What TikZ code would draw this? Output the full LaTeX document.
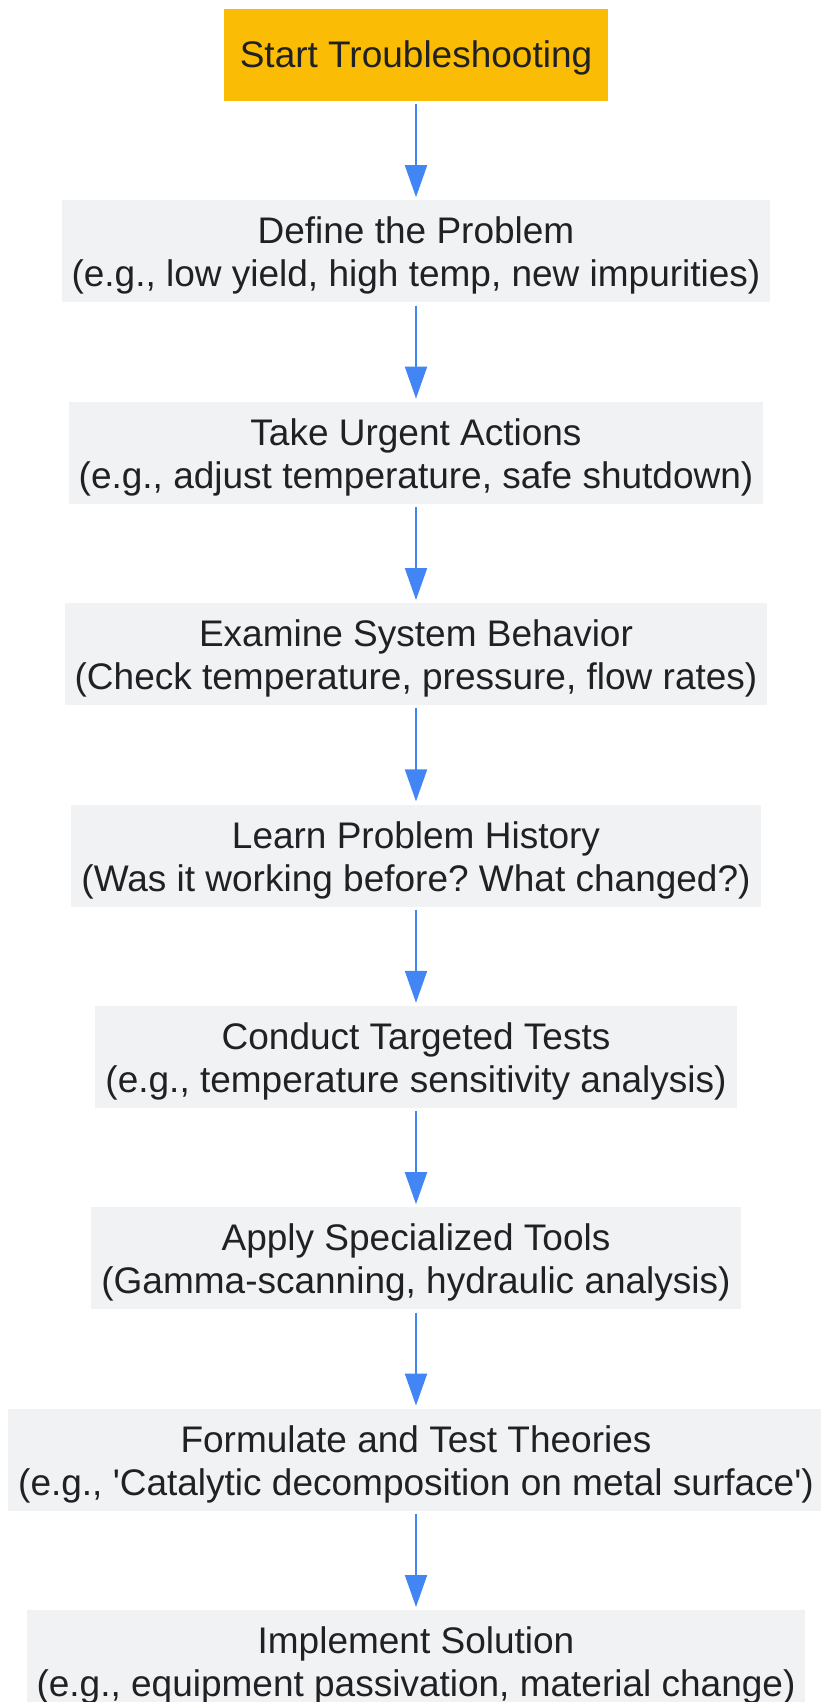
\documentclass[tikz,border=0pt]{standalone}
\usepackage{fontspec}
\setmainfont{Liberation Sans}
\usetikzlibrary{positioning,arrows.meta}
\definecolor{startyellow}{HTML}{FBBC05}
\definecolor{stepgray}{HTML}{F1F2F4}
\definecolor{textdark}{HTML}{202124}
\definecolor{flowblue}{HTML}{4285F4}
\frenchspacing

\begin{document}
\begin{tikzpicture}[x=1pt,y=1pt,font=\fontsize{37}{43}\selectfont,
    stepbox/.style={fill=stepgray, text=textdark, align=center, minimum height=102pt, inner xsep=10pt,
        text height=79pt, text depth=8pt},
    startbox/.style={stepbox, fill=startyellow, minimum height=92pt, inner xsep=15.5pt,
        text height=33pt, text depth=8pt},
    flow/.style={-{Triangle[width=22pt,length=32pt]}, draw=flowblue, fill=flowblue, line width=2pt, shorten <=3pt, shorten >=3pt},
    node distance=99pt]
        \useasboundingbox (0,0) rectangle (820,-1702);

        % Inicio
        \node[startbox] (start) at (416,-55) {Start Troubleshooting};

        % Pasos
        \node[stepbox, below=of start] (define) {Define the Problem\\(e.g., low yield, high temp, new impurities)};
        \node[stepbox, below=of define] (urgent) {Take Urgent Actions\\(e.g., adjust temperature, safe shutdown)};
        \node[stepbox, below=of urgent] (examine) {Examine System Behavior\\(Check temperature, pressure, flow rates)};
        \node[stepbox, below=of examine] (history) {Learn Problem History\\(Was it working before? What changed?)};
        \node[stepbox, below=of history] (tests) {Conduct Targeted Tests\\(e.g., temperature sensitivity analysis)};
        \node[stepbox, below=of tests] (tools) {Apply Specialized Tools\\(Gamma-scanning, hydraulic analysis)};
        \node[stepbox, below=of tools] (theories) {Formulate and Test Theories\\(e.g., \textquotesingle Catalytic decomposition on metal surface\textquotesingle)};
        \node[stepbox, below=of theories] (solution) {Implement Solution\\(e.g., equipment passivation, material change)};

        % Flechas
        \draw[flow] (start) -- (define);
        \draw[flow] (define) -- (urgent);
        \draw[flow] (urgent) -- (examine);
        \draw[flow] (examine) -- (history);
        \draw[flow] (history) -- (tests);
        \draw[flow] (tests) -- (tools);
        \draw[flow] (tools) -- (theories);
        \draw[flow] (theories) -- (solution);
\end{tikzpicture}
\end{document}
